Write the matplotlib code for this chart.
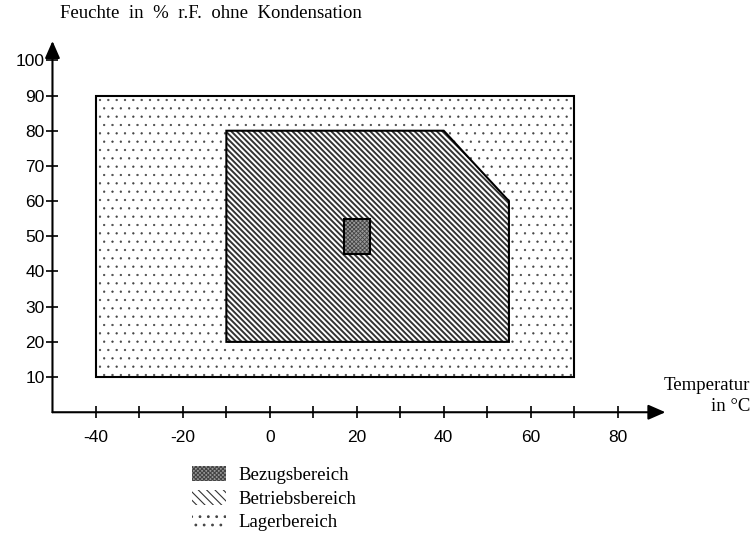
"""
Feuchte / Temperatur Bereichsdiagramm (Lager-, Betriebs-, Bezugsbereich).
"""

# Imports
# ----------------------------------------------------------------------
import matplotlib
matplotlib.use("Agg")
import matplotlib.pyplot as plt
from matplotlib.patches import Polygon, Patch
# ----------------------------------------------------------------------

# Data (Temperatur in degC, Feuchte in % r.F.)
# ----------------------------------------------------------------------
lager_temp = [-40, -40, 70, 70]
lager_feuchte = [10, 90, 90, 10]

betrieb_temp = [-10, -10, 40, 55, 55]
betrieb_feuchte = [20, 80, 80, 60, 20]

bezug_temp = [17, 17, 23, 23]
bezug_feuchte = [45, 55, 55, 45]

x_ticks = list(range(-40, 81, 10))
x_labels = [str(t) if t % 20 == 0 else "" for t in x_ticks]
y_ticks = list(range(10, 101, 10))
y_labels = [str(t) for t in y_ticks]

legend_names = ["Bezugsbereich", "Betriebsbereich", "Lagerbereich"]
y_title = "Feuchte  in  %  r.F.  ohne  Kondensation"
x_title = "Temperatur\nin \u00b0C"
# ----------------------------------------------------------------------

SERIF = ["Liberation Serif", "DejaVu Serif"]
SANS = ["Liberation Sans Narrow", "Liberation Sans", "DejaVu Sans"]
LW = 1.5
DOTS = ".."
LINES = "\\" * 6
CHECK = "xxxxxxxx"
DOT_COL = "#444444"
LINE_COL = "#333333"
BEZ_FACE = "#999999"

fig = plt.figure(figsize=(7.54, 5.41), dpi=100)
ax = fig.add_axes([0.0696, 0.238, 0.836, 0.696])
ax.set_xlim(-50, 95)
ax.set_ylim(0, 107)
for s in ax.spines.values():
    s.set_visible(False)


def area(xs, ys, face, hatch, hcol, hlw, z):
    """Hatched fill plus a black outline."""
    pts = list(zip(xs, ys))
    plt.rcParams["hatch.linewidth"] = hlw
    ax.add_patch(Polygon(pts, closed=True, facecolor=face, edgecolor=hcol,
                         hatch=hatch, lw=0, zorder=z))
    ax.add_patch(Polygon(pts, closed=True, fill=False, edgecolor="black",
                         lw=LW, zorder=z + 0.5))


area(lager_temp, lager_feuchte, "white", DOTS, DOT_COL, 0.4, 1)
area(betrieb_temp, betrieb_feuchte, "white", LINES, LINE_COL, 1.4, 2)
area(bezug_temp, bezug_feuchte, BEZ_FACE, CHECK, "#444444", 0.6, 3)

# axes with arrows
arrow = dict(arrowstyle="-|>,head_length=0.8,head_width=0.35", color="black",
             lw=LW, shrinkA=0, shrinkB=0, mutation_scale=13)
ax.annotate("", xy=(91, 0), xytext=(-50, 0), arrowprops=arrow, annotation_clip=False)
ax.annotate("", xy=(-50, 105.5), xytext=(-50, 0), arrowprops=arrow, annotation_clip=False)

ax.set_xticks(x_ticks)
ax.set_xticklabels(x_labels, family=SANS, fontsize=12.5)
ax.set_yticks(y_ticks)
ax.set_yticklabels(y_labels, family=SANS, fontsize=12.5)
ax.tick_params(direction="inout", length=9, width=1.2)
ax.tick_params(axis="x", pad=8)
ax.tick_params(axis="y", pad=1)

fig.text(60 / 754, 1 - 14 / 541, y_title, family=SERIF, fontsize=13.5,
         ha="left", va="center")
fig.text(750 / 754, 1 - 396 / 541, x_title, family=SERIF, fontsize=13.5,
         ha="right", va="center", multialignment="right", linespacing=1.25)

plt.rcParams["hatch.linewidth"] = 0.8
handles = [
    Patch(facecolor=BEZ_FACE, edgecolor="#444444", hatch=CHECK, lw=0),
    Patch(facecolor="white", edgecolor=LINE_COL, hatch="\\" * 4, lw=0),
    Patch(facecolor="white", edgecolor=DOT_COL, hatch=DOTS, lw=0),
]
fig.legend(handles, legend_names, loc="upper left",
           bbox_to_anchor=(192 / 754, 1 - 466 / 541),
           frameon=False, prop={"family": SERIF, "size": 13.5},
           handlelength=1.8, handleheight=0.85, handletextpad=0.7,
           labelspacing=0.3, borderpad=0, borderaxespad=0)

fig.savefig("out.png", dpi=100)
